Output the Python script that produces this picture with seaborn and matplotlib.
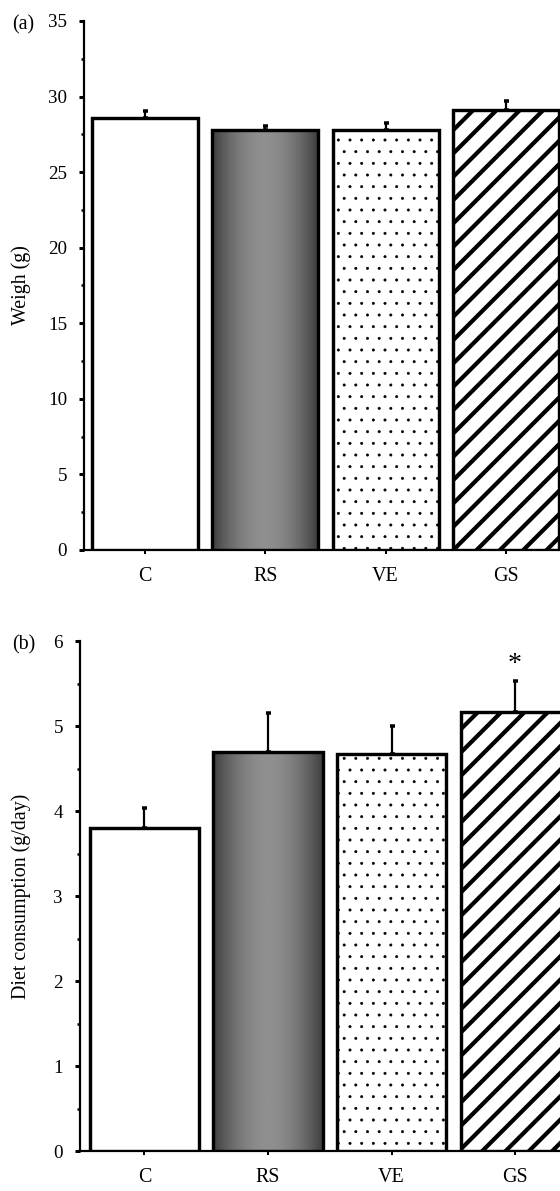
import numpy as np
import matplotlib
matplotlib.use("Agg")
import matplotlib.pyplot as plt
import seaborn as sns
import pandas as pd

# ---------------- data ----------------
groups = ["C", "RS", "VE", "GS"]
weight = [28.6, 27.8, 27.8, 29.1]
weight_err = [0.45, 0.27, 0.45, 0.6]
diet = [3.8, 4.69, 4.67, 5.16]
diet_err = [0.23, 0.46, 0.33, 0.37]
significant = ["", "", "", "*"]

sns.set_theme(style="white")
plt.rcParams["font.family"] = ["Liberation Serif", "DejaVu Serif"]

DPI = 140
W, H = 560, 1191
fig = plt.figure(figsize=(W / DPI, H / DPI), dpi=DPI)

def px2pt(px):
    return px * 72.0 / DPI

FS_TICK = px2pt(19)
FS_CAT = px2pt(20)
FS_LAB = px2pt(20)

def fx(x):
    return x / W

def fy(y):
    return 1 - y / H

def set_hlw(patch, lw):
    if hasattr(patch, "set_hatch_linewidth"):
        patch.set_hatch_linewidth(lw)
    else:
        patch._hatch_linewidth = lw

def gradient_fill(ax, patch):
    x0, y0 = patch.get_x(), patch.get_y()
    w, h = patch.get_width(), patch.get_height()
    t = np.linspace(0, 1, 256)
    prof = 0.24 + 0.32 * np.sin(np.pi * t) ** 0.9
    img = np.tile(prof, (2, 1))
    im = ax.imshow(img, cmap="gray", vmin=0, vmax=1, aspect="auto",
                   extent=[x0, x0 + w, y0, y0 + h], zorder=patch.get_zorder() - 0.1,
                   interpolation="bilinear")
    im.set_clip_path(patch)
    patch.set_facecolor("none")

def panel(rect, vals, errs, ymax, major, minor, ylabel, tag, xlim, width, marks=None):
    ax = fig.add_axes(rect)
    df = pd.DataFrame({"g": groups, "v": vals})
    sns.barplot(data=df, x="g", y="v", hue="g", palette=["white"] * 4, legend=False,
                width=width, edgecolor="black", linewidth=px2pt(3.4), ax=ax,
                errorbar=None, zorder=3)
    bars = ax.patches
    gradient_fill(ax, bars[1])
    bars[2].set_hatch("..")
    bars[2].set_edgecolor("black")
    set_hlw(bars[2], 0.3)
    bars[3].set_hatch("//")
    bars[3].set_edgecolor("black")
    set_hlw(bars[3], px2pt(4.2))
    for b in bars:
        b.set_zorder(3)
    xs = np.arange(len(groups))
    ax.errorbar(xs, vals, yerr=[np.zeros(len(errs)), errs], fmt="none",
                ecolor="black", elinewidth=px2pt(2.2), capsize=px2pt(2.5),
                capthick=px2pt(3.5), zorder=2)
    if marks is not None:
        for x, v, e, m in zip(xs, vals, errs, marks):
            if m:
                ax.text(x, v + e + 0.05 * ymax / 6, m, ha="center", va="bottom",
                        fontsize=px2pt(28), color="black", zorder=5)
    ax.set_xlim(*xlim)
    ax.set_ylim(0, ymax)
    majors = np.arange(0, ymax + 1e-9, major)
    ax.set_yticks(majors)
    ax.set_yticks([m for m in np.arange(0, ymax + 1e-9, minor)
                   if abs(m / major - round(m / major)) > 1e-6], minor=True)
    ax.set_yticklabels([f"{int(t)}" for t in majors])
    ax.set_xlabel("")
    ax.set_ylabel("")
    for s in ["top", "right"]:
        ax.spines[s].set_visible(False)
    for s in ["left", "bottom"]:
        ax.spines[s].set_linewidth(px2pt(2.2))
        ax.spines[s].set_color("black")
    ax.tick_params(axis="y", which="major", direction="out", length=px2pt(5),
                   width=px2pt(3), color="black", pad=px2pt(12), labelsize=FS_TICK,
                   left=True)
    ax.tick_params(axis="y", which="minor", direction="out", length=px2pt(3),
                   width=px2pt(2.5), color="black", left=True)
    ax.tick_params(axis="x", which="major", direction="out", length=px2pt(4),
                   width=px2pt(2), color="black", pad=px2pt(13), labelsize=FS_CAT,
                   bottom=True)
    ax.patch.set_alpha(0)
    for lab in ax.get_xticklabels() + ax.get_yticklabels():
        lab.set_color("black")
    fig.text(fx(21), rect[1] + rect[3] / 2, ylabel, rotation=90, ha="center",
             va="center", fontsize=FS_LAB, color="black")
    fig.text(fx(12), rect[1] + rect[3] - 4 / H, tag, ha="left", va="center",
             fontsize=FS_LAB, color="black")
    return ax

# panel (a)
ya_top, ya_bot = 21, 550
panel([fx(84), fy(ya_bot), 1 - fx(84), (ya_bot - ya_top) / H], weight, weight_err,
      35, 5, 2.5, "Weigh (g)", "(a)", (-0.507, 3.45), 0.88)

# panel (b)
yb_top, yb_bot = 641, 1151
panel([fx(80), fy(yb_bot), 1 - fx(80), (yb_bot - yb_top) / H], diet, diet_err,
      6, 1, 0.5, "Diet consumption (g/day)", "(b)", (-0.522, 3.364), 0.883,
      marks=significant)

fig.savefig("out.png", dpi=DPI, facecolor="white")
